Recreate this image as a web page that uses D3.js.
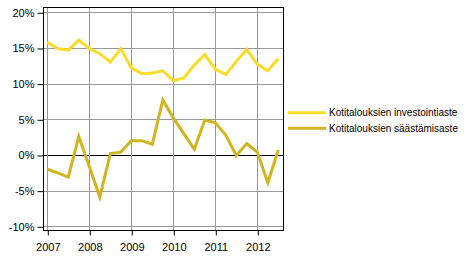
<!DOCTYPE html>
<html>
<head>
<meta charset="utf-8">
<script src="https://cdnjs.cloudflare.com/ajax/libs/d3/7.8.5/d3.min.js"></script>
<style>
	body { margin: 0; background: #fff; }
</style>
</head>
<body>
<div id="chart"></div>
<script>
	// quarters 2007Q1 .. 2012Q3 (x value = year + (q-1)/4)
	var quarters = [
		2007, 2007.25, 2007.5, 2007.75,
		2008, 2008.25, 2008.5, 2008.75,
		2009, 2009.25, 2009.5, 2009.75,
		2010, 2010.25, 2010.5, 2010.75,
		2011, 2011.25, 2011.5, 2011.75,
		2012, 2012.25, 2012.5
	];
	var investointiaste = [
		15.8, 14.9, 14.7, 16.1,
		14.9, 14.2, 13.0, 14.9,
		12.2, 11.4, 11.5, 11.8,
		10.4, 10.8, 12.6, 14.1,
		12.0, 11.3, 13.1, 14.8,
		12.7, 11.8, 13.5
	];
	var saastamisaste = [
		-2.0, -2.5, -3.1, 2.6,
		-1.6, -5.9, 0.2, 0.4,
		2.0, 2.0, 1.5, 7.7,
		5.2, 3.0, 0.8, 4.9,
		4.5, 2.8, -0.1, 1.6,
		0.4, -3.9, 0.7
	];
	var years = [2007, 2008, 2009, 2010, 2011, 2012];
	var yTicks = [-10, -5, 0, 5, 10, 15, 20];
	var seriesNames = ['Kotitalouksien investointiaste', 'Kotitalouksien säästämisaste'];
	var seriesColors = ['#fcdc2a', '#d2b420'];

	var width = 472, height = 263;
	var box = {left: 43, right: 283, top: 7, bottom: 230};
	var font = '"Liberation Sans", Arial, sans-serif';

	var svg = d3.select('#chart').append('svg').attr('width', width).attr('height', height);

	var x = d3.scaleLinear().domain([2007, 2012]).range([47.3, 257.3]);
	var y = d3.scaleLinear().domain([-10, 20]).range([226.3, 12.3]);

	// grid
	svg.append('g').selectAll('line').data(yTicks).enter().append('line')
		.attr('x1', box.left).attr('x2', box.right)
		.attr('y1', function(d) { return Math.round(y(d)) + 0.5; })
		.attr('y2', function(d) { return Math.round(y(d)) + 0.5; })
		.attr('stroke', function(d) { return d === 0 ? '#000' : '#999'; })
		.attr('stroke-width', 1);
	svg.append('g').selectAll('line').data(years).enter().append('line')
		.attr('x1', function(d) { return Math.round(x(d)) + 0.5; })
		.attr('x2', function(d) { return Math.round(x(d)) + 0.5; })
		.attr('y1', box.top).attr('y2', box.bottom)
		.attr('stroke', '#999').attr('stroke-width', 1);

	// lines
	var series = [investointiaste, saastamisaste];
	series.forEach(function(vals, i) {
		var line = d3.line()
			.x(function(d, j) { return x(quarters[j]); })
			.y(function(d) { return y(d); });
		svg.append('path').datum(vals)
			.attr('d', line)
			.attr('fill', 'none')
			.attr('stroke', seriesColors[i])
			.attr('stroke-width', 3)
			.attr('stroke-linejoin', 'miter');
	});

	// frame
	svg.append('rect')
		.attr('x', box.left + 0.5).attr('y', box.top + 0.5)
		.attr('width', box.right - box.left).attr('height', box.bottom - box.top)
		.attr('fill', 'none').attr('stroke', '#000').attr('stroke-width', 1);

	// axes
	var yAxis = d3.axisLeft(y).tickValues(yTicks).tickSize(6).tickPadding(3)
		.tickFormat(function(d) { return d + '%'; });
	var gy = svg.append('g').attr('transform', 'translate(' + (box.left + 0.5) + ',0.5)').call(yAxis);
	gy.select('.domain').remove();
	gy.selectAll('text').attr('font-size', 11).attr('fill', '#000').attr('font-family', font);
	gy.selectAll('line').attr('stroke', '#000');

	var xAxis = d3.axisBottom(x).tickValues(years).tickSize(5).tickPadding(8)
		.tickFormat(d3.format('d'));
	var gx = svg.append('g').attr('transform', 'translate(0.5,' + (box.bottom + 0.5) + ')').call(xAxis);
	gx.select('.domain').remove();
	gx.selectAll('text').attr('font-size', 11).attr('fill', '#000').attr('font-family', font);
	gx.selectAll('line').attr('stroke', '#000');

	// legend
	var legend = svg.append('g').selectAll('g').data(seriesNames).enter().append('g')
		.attr('transform', function(d, i) { return 'translate(288,' + (112.7 + i * 15.6) + ')'; });
	legend.append('line')
		.attr('x1', 0).attr('x2', 38).attr('y1', 0).attr('y2', 0)
		.attr('stroke', function(d, i) { return seriesColors[i]; })
		.attr('stroke-width', 3);
	legend.append('text')
		.attr('x', 41).attr('y', 3.4)
		.attr('font-family', font)
		.attr('font-size', 10)
		.attr('fill', '#000')
		.text(function(d) { return d; });
</script>
</body>
</html>
